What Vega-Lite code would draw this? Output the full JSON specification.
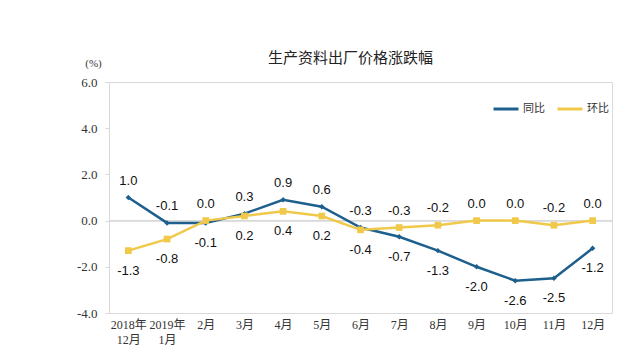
{
  "$schema": "https://vega.github.io/schema/vega-lite/v6.json",
  "width": 503,
  "height": 231,
  "autosize": {"type": "none"},
  "padding": {"left": 109, "top": 82, "right": 30, "bottom": 47},
  "background": "white",
  "title": {"text": "生产资料出厂价格涨跌幅", "font": "Noto Sans CJK SC", "fontSize": 15, "fontWeight": "normal", "color": "#222", "anchor": "middle", "frame": "group", "dx": -10, "offset": -9},
  "config": {"view": {"stroke": "#d9d9d9", "strokeWidth": 1}},
  "data": {"values": [
    {"month": "2018年12月", "series": "同比", "value": 1.0},
    {"month": "2019年1月", "series": "同比", "value": -0.1},
    {"month": "2月", "series": "同比", "value": -0.1},
    {"month": "3月", "series": "同比", "value": 0.3},
    {"month": "4月", "series": "同比", "value": 0.9},
    {"month": "5月", "series": "同比", "value": 0.6},
    {"month": "6月", "series": "同比", "value": -0.3},
    {"month": "7月", "series": "同比", "value": -0.7},
    {"month": "8月", "series": "同比", "value": -1.3},
    {"month": "9月", "series": "同比", "value": -2.0},
    {"month": "10月", "series": "同比", "value": -2.6},
    {"month": "11月", "series": "同比", "value": -2.5},
    {"month": "12月", "series": "同比", "value": -1.2},
    {"month": "2018年12月", "series": "环比", "value": -1.3},
    {"month": "2019年1月", "series": "环比", "value": -0.8},
    {"month": "2月", "series": "环比", "value": 0.0},
    {"month": "3月", "series": "环比", "value": 0.2},
    {"month": "4月", "series": "环比", "value": 0.4},
    {"month": "5月", "series": "环比", "value": 0.2},
    {"month": "6月", "series": "环比", "value": -0.4},
    {"month": "7月", "series": "环比", "value": -0.3},
    {"month": "8月", "series": "环比", "value": -0.2},
    {"month": "9月", "series": "环比", "value": 0.0},
    {"month": "10月", "series": "环比", "value": 0.0},
    {"month": "11月", "series": "环比", "value": -0.2},
    {"month": "12月", "series": "环比", "value": 0.0}
  ]},
  "transform": [
    {"joinaggregate": [{"op": "max", "field": "value", "as": "maxv"}], "groupby": ["month"]},
    {"calculate": "replace(format(datum.value, '.1f'), '\u2212', '-')", "as": "label"}
  ],
  "encoding": {
    "x": {
      "field": "month", "type": "ordinal",
      "sort": ["2018年12月", "2019年1月", "2月", "3月", "4月", "5月", "6月", "7月", "8月", "9月", "10月", "11月", "12月"],
      "scale": {"type": "point", "padding": 0.5},
      "axis": {
        "title": null, "domain": false, "ticks": false, "labelAngle": 0, "labelPadding": 6,
        "labelFont": "Liberation Serif, Noto Sans CJK SC", "labelFontSize": 12, "labelColor": "#333", "labelLineHeight": 15,
        "labelExpr": "indexof(datum.label,'年')>0 ? [slice(datum.label,0,indexof(datum.label,'年')+1), slice(datum.label,indexof(datum.label,'年')+1)] : datum.label"
      }
    },
    "y": {
      "field": "value", "type": "quantitative",
      "scale": {"domain": [-4, 6], "nice": false},
      "axis": {
        "values": [-4, -2, 0, 2, 4, 6], "format": ".1f", "grid": false, "domain": false,
        "labelExpr": "replace(datum.label, '\u2212', '-')",
        "ticks": true, "tickSize": 4, "tickColor": "#d9d9d9", "labelPadding": 8,
        "labelFont": "Liberation Serif", "labelFontSize": 13, "labelColor": "#333",
        "title": "(%)", "titleAngle": 0, "titleX": -16, "titleY": -14, "titleAlign": "center", "titleBaseline": "bottom",
        "titleFont": "Liberation Serif", "titleFontSize": 11, "titleFontWeight": "normal", "titleColor": "#333"
      }
    }
  },
  "layer": [
    {
      "mark": {"type": "rule", "color": "#d9d9d9", "strokeWidth": 1},
      "encoding": {"y": {"datum": 0}, "x": null}
    },
    {
      "mark": {"type": "line", "strokeWidth": 2.5},
      "encoding": {
        "color": {
          "field": "series", "type": "nominal",
          "scale": {"domain": ["同比", "环比"], "range": ["#1d5f8d", "#f0c94b"]},
          "legend": {
            "orient": "none", "legendX": 383, "legendY": 13, "direction": "horizontal", "title": null,
            "symbolType": "stroke", "symbolSize": 625, "symbolStrokeWidth": 3,
            "labelFont": "Noto Sans CJK SC", "labelFontSize": 11, "labelColor": "#333", "labelOffset": 3, "columnPadding": 6
          }
        }
      }
    },
    {
      "transform": [{"filter": "datum.series == '同比'"}],
      "mark": {"type": "point", "shape": "diamond", "filled": true, "size": 30, "opacity": 1},
      "encoding": {"color": {"field": "series", "type": "nominal"}}
    },
    {
      "transform": [{"filter": "datum.series == '环比'"}],
      "mark": {"type": "point", "shape": "square", "filled": true, "size": 45, "opacity": 1},
      "encoding": {"color": {"field": "series", "type": "nominal"}}
    },
    {
      "transform": [{"filter": "datum.value == datum.maxv"}],
      "mark": {"type": "text", "dy": -17, "font": "Liberation Sans", "fontSize": 13, "color": "#111"},
      "encoding": {"text": {"field": "label", "type": "nominal"}}
    },
    {
      "transform": [{"filter": "datum.value != datum.maxv"}],
      "mark": {"type": "text", "dy": 20, "font": "Liberation Sans", "fontSize": 13, "color": "#111"},
      "encoding": {"text": {"field": "label", "type": "nominal"}}
    }
  ]
}
